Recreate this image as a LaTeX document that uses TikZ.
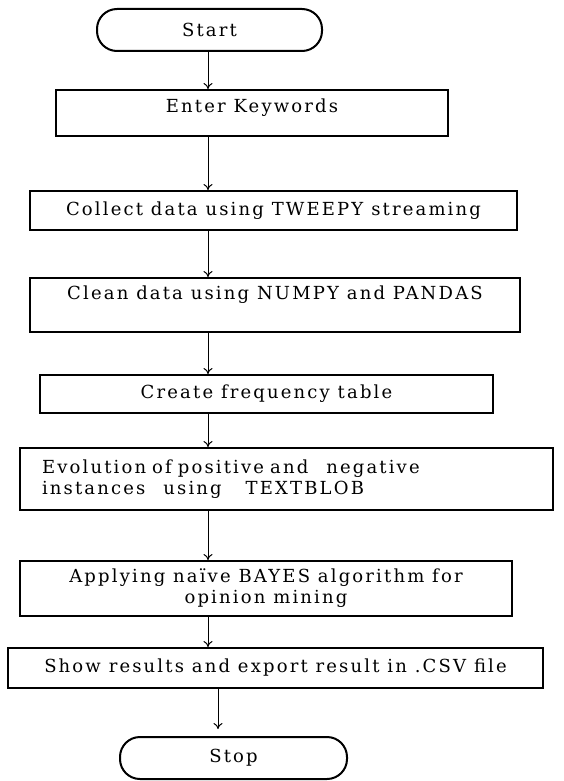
\documentclass[tikz,border=0pt]{standalone}
\usepackage{fontspec}
\setmainfont{DejaVu Serif}[LetterSpace=12]
\usetikzlibrary{arrows.meta}

\tikzset{
  stepbox/.style={draw, line width=2pt, inner sep=0pt, font=\fontsize{18}{21}\selectfont},
  termbox/.style={stepbox, rounded corners=20pt},
  flow/.style={-{To[length=6pt, width=9pt]}, line width=1pt}
}

\begin{document}
\begin{tikzpicture}[x=1pt, y=-1pt]
    \useasboundingbox (0, 0) rectangle (563, 781);
    \node[termbox, minimum width=225pt, minimum height=42pt] (start) at (209.5, 30) {Start};
    \node[stepbox, minimum width=392pt, minimum height=46pt, text depth=14pt] (enter) at (252, 113) {Enter Keywords};
    \node[stepbox, minimum width=487pt, minimum height=39pt] (collect) at (273.5, 210.5) {Collect data using TWEEPY streaming};
    \node[stepbox, minimum width=490pt, minimum height=54pt, text depth=24pt] (clean) at (275, 305) {Clean data using NUMPY and PANDAS};
    \node[stepbox, minimum width=453pt, minimum height=38pt] (freq) at (266.5, 394) {Create frequency table};
    \node[stepbox, minimum width=533pt, minimum height=62pt, align=left, text width=489pt] (evol) at (286.5, 479)
      {Evolution of positive and \ \ negative\\ instances \ \ using \ \ \ TEXTBLOB};
    \node[stepbox, minimum width=492pt, minimum height=55pt, align=center] (bayes) at (266, 588.5)
      {Applying na\"ive BAYES algorithm for\\ opinion mining};
    \node[stepbox, minimum width=535pt, minimum height=40pt] (show) at (275.5, 668) {Show results and export result in .CSV file};
    \node[termbox, minimum width=227pt, minimum height=42pt] (stop) at (233.5, 758) {Stop};

    % arrows down the left axis
    \coordinate (axis) at (208, 0);
    \coordinate (axisb) at (218, 0);
    \draw[flow] (start.south -| axis) -- (enter.north -| axis);
    \draw[flow] (enter.south -| axis) -- (collect.north -| axis);
    \draw[flow] (collect.south -| axis) -- (clean.north -| axis);
    \draw[flow] (clean.south -| axis) -- (freq.north -| axis);
    \draw[flow] (freq.south -| axis) -- (evol.north -| axis);
    \draw[flow] (evol.south -| axis) -- (bayes.north -| axis);
    \draw[flow] (bayes.south -| axis) -- (show.north -| axis);
    \draw[flow] (show.south -| axisb) -- ([yshift=7pt]stop.north -| axisb);
\end{tikzpicture}
\end{document}
